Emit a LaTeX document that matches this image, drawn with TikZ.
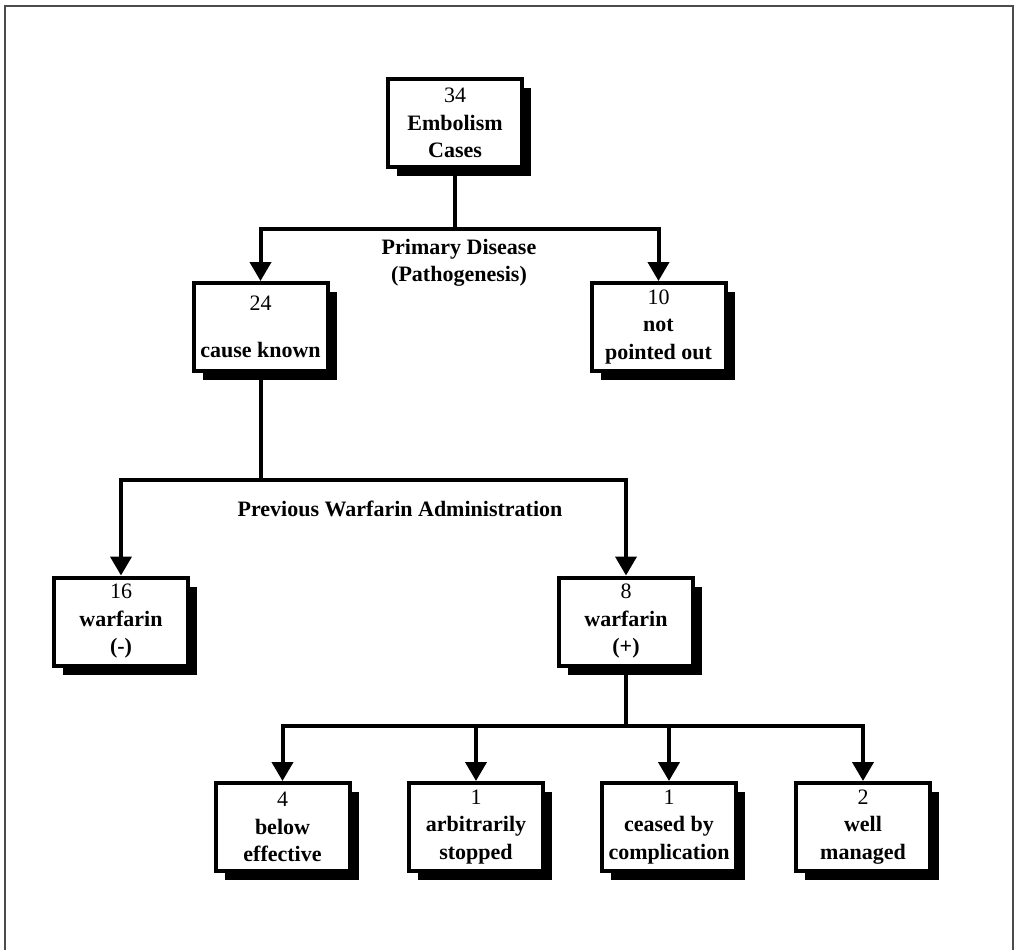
\documentclass[tikz,border=0pt]{standalone}
\usepackage{fontspec}
\setmainfont{Liberation Serif}
\usetikzlibrary{arrows.meta,shadows}

\begin{document}
\begin{tikzpicture}[
			x=1pt, y=-1pt,
			every node/.style={font=\fontsize{22}{27.5}\selectfont},
			casebox/.style={draw, line width=4pt, fill=white, align=center, inner sep=0pt,
				minimum width=134pt, minimum height=88pt,
				drop shadow={shadow xshift=9pt, shadow yshift=-9pt, fill=black, opacity=1}},
			branch/.style={line width=4pt},
			arrowline/.style={line width=4pt, -{Triangle[length=19pt,width=21pt]}},
			heading/.style={align=center, font=\fontsize{22}{27.5}\selectfont\bfseries}
			]

				\useasboundingbox (0,0) rectangle (1017,950);
				\draw[line width=1.5pt, black!70] (5,952) -- (5,6) -- (1013,6) -- (1013,952);

				% boxes
				\node[casebox] (total) at (455,123) {34\\\textbf{Embolism}\\\textbf{Cases}};
				\node[casebox] (known) at (260.5,327) {24\\[19pt]\textbf{cause known}};
				\node[casebox] (unknown) at (658.5,327) {10\\\textbf{not}\\\textbf{pointed out}};
				\node[casebox] (nowarf) at (121,621.5) {16\\\textbf{warfarin}\\\textbf{(-)}};
				\node[casebox] (warf) at (626,621.5) {8\\\textbf{warfarin}\\\textbf{(+)}};
				\node[casebox] (below) at (282.5,827) {4\\\textbf{below}\\\textbf{effective}};
				\node[casebox] (stopped) at (476,827) {1\\\textbf{arbitrarily}\\\textbf{stopped}};
				\node[casebox] (ceased) at (669,827) {1\\\textbf{ceased by}\\\textbf{complication}};
				\node[casebox] (managed) at (863,827) {2\\\textbf{well}\\\textbf{managed}};

				% labels
				\node[heading] (disease) at (459,263) {Primary Disease\\(Pathogenesis)};
				\node[heading] (history) at (400,509) {Previous Warfarin Administration};

				% connectors
				\coordinate (j1) at (455,229);
				\coordinate (j2) at (260.5,480);
				\coordinate (j3) at (626,726);

				\draw[branch] (total) -- (j1);
				\draw[arrowline] (j1) -| (known.north);
				\draw[arrowline] (j1) -| (unknown.north);

				\draw[branch] (known) -- (j2);
				\draw[arrowline] (j2) -| (nowarf.north);
				\draw[arrowline] (j2) -| (warf.north);

				\draw[branch] (warf) -- (j3);
				\draw[arrowline] (j3) -| (below.north);
				\draw[arrowline] (j3) -| (stopped.north);
				\draw[arrowline] (j3) -| (ceased.north);
				\draw[arrowline] (j3) -| (managed.north);

			\end{tikzpicture}
\end{document}
